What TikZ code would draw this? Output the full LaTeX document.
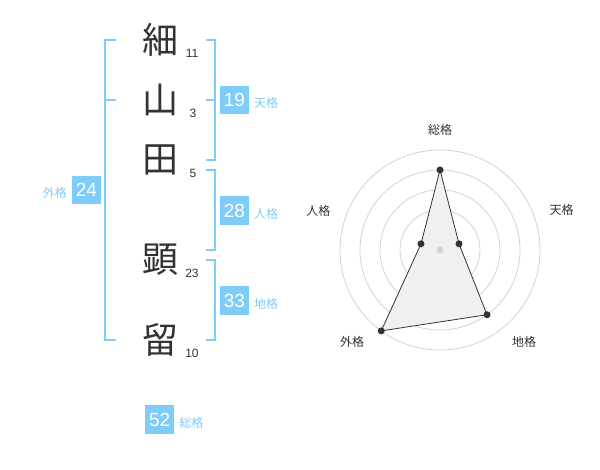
\documentclass[tikz,border=0pt]{standalone}
\usepackage{fontspec}
\setmainfont{Liberation Sans}
\newfontfamily\jpfont{Noto Sans CJK JP}
\usepackage{tikz}
\usetikzlibrary{positioning}
\definecolor{kakublue}{RGB}{128,204,248}
\definecolor{inkgray}{RGB}{51,51,51}
\definecolor{ringgray}{RGB}{210,210,210}
\definecolor{fillgray}{RGB}{240,240,240}
\tikzset{
  glyph/.style={font=\jpfont\fontsize{36}{36}\selectfont, text=inkgray, inner sep=0pt},
  count/.style={font=\fontsize{12}{12}\selectfont, text=inkgray, inner sep=0pt},
  score/.style={fill=kakublue, text=white, minimum size=28.5pt, inner sep=0pt, font=\fontsize{19}{19}\selectfont},
  kaku/.style={font=\jpfont\fontsize{12}{12}\selectfont, text=kakublue, inner sep=0pt},
  brace/.style={draw=kakublue, line width=2pt},
  axislabel/.style={font=\jpfont\fontsize{12}{12}\selectfont, text=inkgray, inner sep=0pt},
  ring/.style={draw=ringgray, line width=0.8pt},
  dot/.style={circle, fill=inkgray, inner sep=0pt, minimum size=7pt},
}
\newcommand{\nameglyph}[3] {\node at (#1) (#2) [glyph] {#3};}
\newcommand{\strokecount}[3] {\node at (#1) (#2) [count] {#3};}
\newcommand{\scorebox}[5] {\node at (#1) (#2) [score] {#3}; \node (#2l) [kaku, #5=5pt of #2, yshift=-3pt] {#4};}
\newcommand{\rightbrace}[3] {\draw [brace] (206,#1) -- (215,#1) -- (215,#2) -- (206,#2); \coordinate (#3) at (215,#1);}

\begin{document}
\begin{tikzpicture}[x=1pt, y=-1pt]
\useasboundingbox (0,0) rectangle (600,470);
\fill [white] (0,0) rectangle (600,470);

% name
\nameglyph {160,40} {hoso} {細};
\nameglyph {160,100} {yama} {山};
\nameglyph {160,160} {ta} {田};
\nameglyph {160,260} {ken} {顕};
\nameglyph {160,340} {ryu} {留};

\strokecount {192,53} {n11} {11};
\strokecount {193,113} {n3} {3};
\strokecount {193,173} {n5} {5};
\strokecount {192,273} {n23} {23};
\strokecount {192,353} {n10} {10};

% brackets
\draw [brace] (116,40) -- (105,40) -- (105,340) -- (116,340);
\draw [brace] (105,100) -- (116,100);
\rightbrace {40} {160} {tenb};
\draw [brace] (206,100) -- (215,100);
\rightbrace {170} {250} {jinb};
\rightbrace {260} {340} {chib};

% scores
\scorebox {86.5,190} {gai} {24} {外格} {left};
\scorebox {234.5,100} {ten} {19} {天格} {right};
\scorebox {234.5,210.5} {jin} {28} {人格} {right};
\scorebox {234.5,300.5} {chi} {33} {地格} {right};
\scorebox {159.7,419.5} {so} {52} {総格} {right};

% radar
\begin{scope}[shift={(440,250)}, y=1pt]
\foreach \r in {20,40,...,100}
  \draw [ring] (0,0) circle [radius=\r];
\coordinate (r-so) at (90:80);
\coordinate (r-ten) at (18:20);
\coordinate (r-chi) at (-54:80);
\coordinate (r-gai) at (-126:100);
\coordinate (r-jin) at (162:20);
\draw [fill=fillgray, draw=inkgray, line width=0.8pt] (r-so) -- (r-ten) -- (r-chi) -- (r-gai) -- (r-jin) -- cycle;
\node at (0,0) (hub) [dot, fill=ringgray] {};
\foreach \p in {so,ten,chi,gai,jin}
  \node at (r-\p) (d-\p) [dot] {};

\node at (0,120) (l-so) [axislabel] {総格};
\node at (18:128) (l-ten) [axislabel] {天格};
\node at (162:128) (l-jin) [axislabel] {人格};
\node at (84,-92) (l-chi) [axislabel] {地格};
\node at (-88,-92) (l-gai) [axislabel] {外格};
\end{scope}
\end{tikzpicture}
\end{document}
